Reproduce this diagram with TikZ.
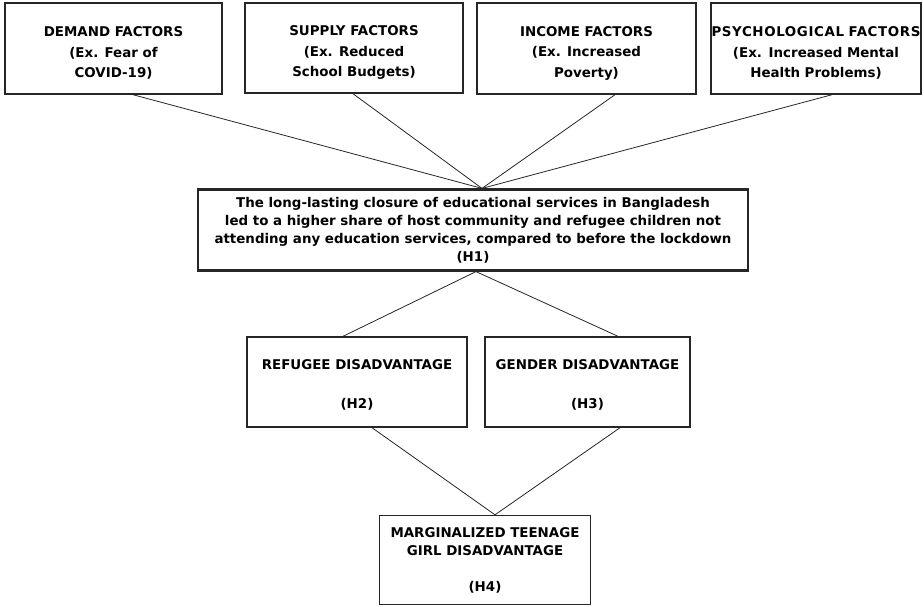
\documentclass[tikz,border=0pt]{standalone}
\usepackage{fontspec}
\setmainfont{DejaVu Sans}
\usepackage{tikz}
\tikzset{
	box/.style = { draw = black!85 , line width = 1.4pt , align = center ,
		inner sep = 0pt , font = \bfseries\fontsize{13.4}{20.5}\selectfont },
	link/.style = { draw = black!85 , line width = 0.8pt }
}

\begin{document}
\begin{tikzpicture}[ x = 1pt , y = -1pt ]
	\useasboundingbox (0,0) rectangle (924,606);
	\node [ box , minimum width = 217pt , minimum height = 91pt ] (demand) at (113.5,48.5)
	{ \rule{0pt}{19pt}DEMAND FACTORS \\ (Ex. Fear of \\ COVID-19) };
	\node [ box , minimum width = 218pt , minimum height = 90pt ] (supply) at (354,48)
	{ \rule{0pt}{19pt}SUPPLY FACTORS \\ (Ex. Reduced \\ School Budgets) };
	\node [ box , minimum width = 219pt , minimum height = 91pt ] (income) at (586.5,48.5)
	{ \rule{0pt}{19pt}INCOME FACTORS \\ (Ex. Increased \\ Poverty) };
	\node [ box , minimum width = 210pt , text width = 210pt , minimum height = 91pt ] (psych) at (816,48.5)
	{ \rule{0pt}{19pt}{\addfontfeature{LetterSpace=4.5}PSYCHOLOGICAL FACTORS} \\
		(Ex. Increased Mental \\ Health Problems) };
	\node [ box , line width = 2.2pt , minimum width = 550pt , minimum height = 81pt ,
		font = \bfseries\fontsize{13.4}{18}\selectfont ] (h1) at (473,230)
	{ The long-lasting closure of educational services in Bangladesh \\
		led to a higher share of host community and refugee children not \\
		attending any education services, compared to before the lockdown \\
		(H1) };
	\node [ box , minimum width = 220pt , minimum height = 90pt ] (h2) at (357,382)
	{ \rule{0pt}{16pt}REFUGEE DISADVANTAGE \\[18pt] (H2) };
	\node [ box , minimum width = 205pt , minimum height = 90pt ] (h3) at (587.5,382)
	{ \rule{0pt}{16pt}GENDER DISADVANTAGE \\[18pt] (H3) };
	\node [ box , minimum width = 211pt , minimum height = 89pt ,
		font = \bfseries\fontsize{13.4}{18}\selectfont ] (h4) at (485,560)
	{ MARGINALIZED TEENAGE \\ GIRL DISADVANTAGE \\[18pt] (H4) };
	\coordinate (top) at ([ xshift = 9pt ] h1.north);
	\draw [ link ] ([ xshift = 19.5pt ] demand.south) -- (top);
	\draw [ link ] ([ xshift = -1pt ] supply.south) -- (top);
	\draw [ link ] ([ xshift = 28.5pt ] income.south) -- (top);
	\draw [ link ] ([ xshift = 16pt ] psych.south) -- (top);
	\draw [ link ] ([ xshift = 3pt ] h1.south) -- ([ xshift = -14pt ] h2.north);
	\draw [ link ] ([ xshift = 3pt ] h1.south) -- ([ xshift = 30.5pt ] h3.north);
	\draw [ link ] ([ xshift = 15pt ] h2.south) -- ([ xshift = 10pt ] h4.north);
	\draw [ link ] ([ xshift = 32.5pt ] h3.south) -- ([ xshift = 10pt ] h4.north);
\end{tikzpicture}
\end{document}
